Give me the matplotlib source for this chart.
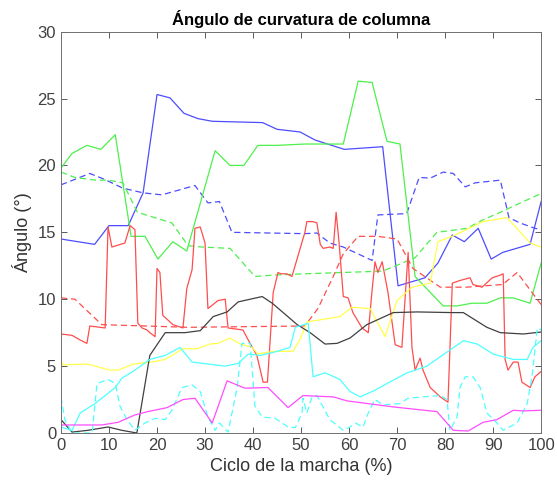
import matplotlib
matplotlib.use('Agg')
import matplotlib.pyplot as plt

plt.rcParams['font.family'] = ['Liberation Sans', 'DejaVu Sans']

# blue solid
blue_x = [0, 7, 10, 14, 17.1, 20, 22.7, 25.6, 28.5, 31.5, 42, 45, 49.8, 52.9, 59, 67,
          70.2, 75.8, 78.5, 81.5, 84, 86.9, 89.6, 92, 97.7, 100]
blue_y = [14.5, 14.1, 15.5, 15.5, 17.95, 25.3, 25.05, 23.9, 23.5, 23.3, 23.2, 22.7, 22.5, 21.9, 21.2, 21.4,
          11.0, 11.6, 12.7, 14.8, 14.3, 15.3, 13.0, 13.5, 14.1, 17.3]

# blue dashed
blued_x = [0, 6, 8.8, 12.9, 17.1, 21, 27.9, 30.6, 33, 35.6, 50.8, 53.3, 56, 58.8, 64.8, 66,
           72, 74.6, 76.9, 79.6, 81.7, 84.2, 86.3, 91.5, 93.3, 95.6, 98.7, 100]
blued_y = [18.55, 19.4, 19.0, 18.3, 17.95, 17.8, 18.5, 17.2, 17.3, 15.0, 14.9, 14.95, 14.2, 13.9, 12.9, 16.3,
           16.4, 19.1, 19.05, 19.5, 19.4, 18.4, 18.7, 18.9, 16.1, 15.7, 15.3, 15.2]

# green solid
green_x = [0, 2.3, 5.4, 8.3, 11.3, 14.6, 17.5, 20.2, 23.3, 26.2, 32.1, 35.2, 38.1, 41, 45, 50.8,
           58.8, 61.9, 64.8, 67.9, 70.6, 73.75, 79.6, 82.5, 85.6, 88.7, 91.5, 94.2, 97.7, 100]
green_y = [19.8, 20.9, 21.5, 21.2, 22.3, 14.7, 14.7, 13.0, 14.3, 13.6, 21.1, 20.0, 20.0, 21.5, 21.5, 21.6,
           21.6, 26.3, 26.2, 21.8, 21.6, 11.7, 9.5, 9.5, 9.7, 9.7, 10.1, 10.1, 9.7, 12.7]

# green dashed
greend_x = [0, 2.9, 7.1, 9.8, 12.9, 15.9, 23.1, 26.5, 29.4, 35.2, 40.4, 44, 50.8, 67, 73.75,
            78.3, 84.6, 87.7, 91.5, 96.3, 100]
greend_y = [19.5, 19.1, 18.9, 18.9, 18.7, 16.5, 15.7, 14.0, 13.9, 13.8, 11.7, 11.8, 11.9, 12.1, 13.1,
            15.0, 15.3, 15.9, 16.5, 17.3, 17.9]

# red dashed
redd_x = [0, 2.9, 8.5, 26.5, 50.8, 53.5, 56.7, 58.8, 61.9, 66, 70, 73.3, 79, 84.4, 92, 95, 97.7, 100]
redd_y = [10.1, 10.0, 8.1, 7.9, 8.0, 9.3, 11.7, 13.4, 14.7, 14.7, 14.5, 12.3, 10.9, 10.9, 11.1, 12.0, 10.7, 9.6]

# red solid
red_x = [0, 2.3, 4, 5.4, 6, 9.2, 9.8, 10.6, 13.3, 14.4, 15.4, 16, 16.9, 17.9, 18.5, 19.6, 20, 20.6,
         21.2, 23.3, 25.4, 26.2, 27.3, 27.9, 29, 30, 30.6, 32.7, 34.2, 34.8, 37.9, 39, 40.8, 42.1,
         43, 44.2, 45.2, 45.8, 47, 48.1, 50.8, 51.2, 52.5, 53.3, 54, 54.6, 56, 56.7, 57.3, 57.9,
         58.8, 59.8, 60.8, 62.7, 64, 64.8, 65.4, 66, 66.9, 68.1, 69.6, 71, 72.3, 73.1, 73.75, 74.8,
         75.4, 76.9, 79, 80.6, 81.5, 83.1, 85.2, 85.8, 87.7, 89.8, 91.5, 92.1, 92.5, 93.1, 94.2,
         95.2, 96, 97.7, 98.7, 100]
red_y = [7.4, 7.3, 6.95, 6.7, 8.0, 7.85, 15.4, 13.9, 14.2, 15.5, 15.2, 8.2, 7.85, 7.7, 7.5, 7.2, 12.3, 12.0,
         8.8, 8.1, 7.85, 10.8, 12.2, 15.3, 15.4, 14.2, 9.3, 9.9, 10.0, 7.85, 7.7, 6.95, 5.8, 3.8,
         3.8, 10.5, 12.0, 11.9, 11.9, 11.7, 15.0, 15.8, 15.8, 15.7, 14.1, 13.8, 13.9, 13.8, 16.5, 14.3,
         10.2, 10.1, 9.0, 7.85, 7.5, 10.7, 12.8, 12.0, 12.8, 10.5, 6.6, 6.4, 13.5, 6.4, 4.7, 5.6,
         4.7, 3.4, 2.7, 2.3, 11.2, 11.4, 11.6, 11.1, 10.9, 11.6, 11.8, 11.9, 5.5, 4.7, 5.3,
         5.3, 3.8, 3.4, 4.2, 4.6]

# yellow
yellow_x = [0, 0.3, 5.6, 10.2, 11.9, 15, 18.9, 21.7, 25.4, 28.3, 31, 32.7, 35.2, 37.3, 39.8, 41,
            44, 48.3, 49.8, 51.2, 58.1, 60.6, 64.4, 67.5, 70, 73.1, 76.9, 78.5, 81.5, 87.9, 92.9,
            97.7, 100]
yellow_y = [5.5, 5.1, 5.15, 4.7, 4.7, 5.15, 5.3, 5.5, 6.3, 6.3, 6.65, 6.7, 7.1, 6.65, 6.4, 5.9,
            6.1, 6.1, 7.0, 8.3, 8.7, 9.4, 9.3, 7.2, 9.9, 10.9, 11.2, 14.3, 14.7, 15.8, 16.1,
            14.2, 13.9]

# black
black_x = [0, 2.3, 5.6, 9.8, 12.7, 15.8, 18.5, 21.7, 25.8, 29, 31.7, 34.6, 36.9, 41.9, 44, 49.2,
           51.9, 55, 57.5, 60.2, 63.7, 69.2, 74.2, 81.5, 83.8, 88.7, 91.5, 96.3, 100]
black_y = [1.0, 0.07, 0.2, 0.45, 0.2, 0.0, 5.8, 7.5, 7.5, 7.65, 8.7, 9.05, 9.8, 10.2, 9.7, 8.1,
           7.5, 6.65, 6.7, 7.1, 8.1, 9.0, 9.05, 9.0, 9.0, 7.9, 7.5, 7.4, 7.55]

# cyan solid
cyan_x = [0, 2.3, 4, 7.1, 11.3, 12.7, 15.4, 18.5, 21.7, 24.8, 27.3, 29.6, 34.2, 36.9, 39, 41.5,
          45, 47.7, 48.8, 51.5, 52.5, 55, 58.1, 60.2, 62.3, 65.4, 67.9, 72.1, 76.2, 80.6, 83.8,
          86.7, 90, 94.2, 97.1, 98.3, 100]
cyan_y = [0.45, 0.2, 1.5, 2.2, 3.4, 4.1, 4.7, 5.5, 5.8, 6.4, 5.3, 5.2, 5.0, 5.2, 5.9, 5.8,
          6.1, 6.4, 7.9, 8.2, 4.2, 4.5, 4.0, 3.1, 2.7, 3.2, 3.7, 4.5, 5.0, 6.1, 6.9,
          6.65, 5.9, 5.5, 5.5, 6.4, 6.9]

# cyan dashed
cyand_x = [0, 0.8, 2.3, 6.5, 7.5, 9.8, 11.3, 12.3, 13.75, 15.4, 17.5, 19.6, 21.7, 23.1, 25.2, 27.3,
           29, 30.6, 32.1, 33, 34.8, 36.7, 37.7, 39.4, 40.4, 41.9, 44.6, 47.3, 48.8, 50.2, 50.4,
           51.2, 52.3, 53.3, 56, 58.8, 60.2, 61.3, 62.9, 64, 65.4, 67.1, 70.6, 72.3, 75.4, 79,
           80.4, 81, 82.5, 83.1, 84.2, 85.8, 87.3, 88.7, 90.8, 92.1, 95, 97.1, 98.1, 99.2, 100]
cyand_y = [2.7, 1.0, 0.0, 0.0, 3.7, 4.0, 3.7, 2.0, 1.0, 0.2, 0.75, 1.1, 1.0, 1.7, 3.4, 3.6,
           3.1, 1.2, 0.2, 0.75, 0.07, 3.4, 6.7, 6.7, 2.0, 1.2, 1.1, 0.45, 0.4, 1.5, 2.6,
           1.5, 2.7, 2.8, 1.0, 0.2, 0.45, 0.75, 0.45, 1.5, 2.5, 2.1, 2.2, 2.6, 2.7, 2.8,
           2.5, 0.2, 1.2, 3.4, 4.2, 4.2, 3.4, 1.5, 0.75, 0.2, 0.75, 2.2, 4.2, 7.85, 7.7]

# magenta
magenta_x = [0, 2.9, 8.5, 11.9, 15.4, 18.1, 22.1, 25.4, 27.9, 31.5, 34.6, 38.3, 43.1, 47.3, 50.4,
             56.7, 59.6, 69.2, 78.3, 81.7, 84.8, 87.9, 90.8, 94.2, 96.3, 100]
magenta_y = [0.6, 0.6, 0.6, 0.8, 1.35, 1.6, 1.9, 2.5, 2.6, 0.75, 3.9, 3.35, 3.4, 1.9, 2.8,
             2.7, 2.4, 1.95, 1.6, 0.2, 0.15, 0.8, 1.0, 1.7, 1.65, 1.7]

series = [
    (blue_x, blue_y, '#4d4dff', '-'),
    (blued_x, blued_y, '#4d4dff', '--'),
    (green_x, green_y, '#4df04d', '-'),
    (greend_x, greend_y, '#4df04d', '--'),
    (redd_x, redd_y, '#ff4d4d', '--'),
    (red_x, red_y, '#ff4d4d', '-'),
    (yellow_x, yellow_y, '#ffff4d', '-'),
    (black_x, black_y, '#404040', '-'),
    (cyan_x, cyan_y, '#4dffff', '-'),
    (cyand_x, cyand_y, '#4dffff', '--'),
    (magenta_x, magenta_y, '#ff4dff', '-'),
]


def main():
    fig = plt.figure(figsize=(5.57, 4.83), dpi=100)
    ax = fig.add_axes([0.1095, 0.1035, 0.862, 0.831])

    for x, y, colour, ls in series:
        ax.plot(x, y, ls, color=colour, lw=0.9, dashes=(5, 3) if ls == '--' else (None, None))

    ax.set_xlim(0, 100)
    ax.set_ylim(0, 30)
    ax.set_xticks(range(0, 101, 10))
    ax.set_yticks(range(0, 31, 5))
    ax.tick_params(direction='in', top=True, right=True, labelsize=12,
                   colors='#404040', length=4, width=0.6)
    for s in ax.spines.values():
        s.set_color('#707070')
        s.set_linewidth(0.7)
    ax.set_title('Ángulo de curvatura de columna', fontsize=12, fontweight='bold', pad=5)
    ax.set_xlabel('Ciclo de la marcha (%)', fontsize=13, color='#333333')
    ax.set_ylabel('Ángulo (°)', fontsize=13, color='#333333')

    fig.savefig('out.png', dpi=100)


if __name__ == '__main__':
    main()
